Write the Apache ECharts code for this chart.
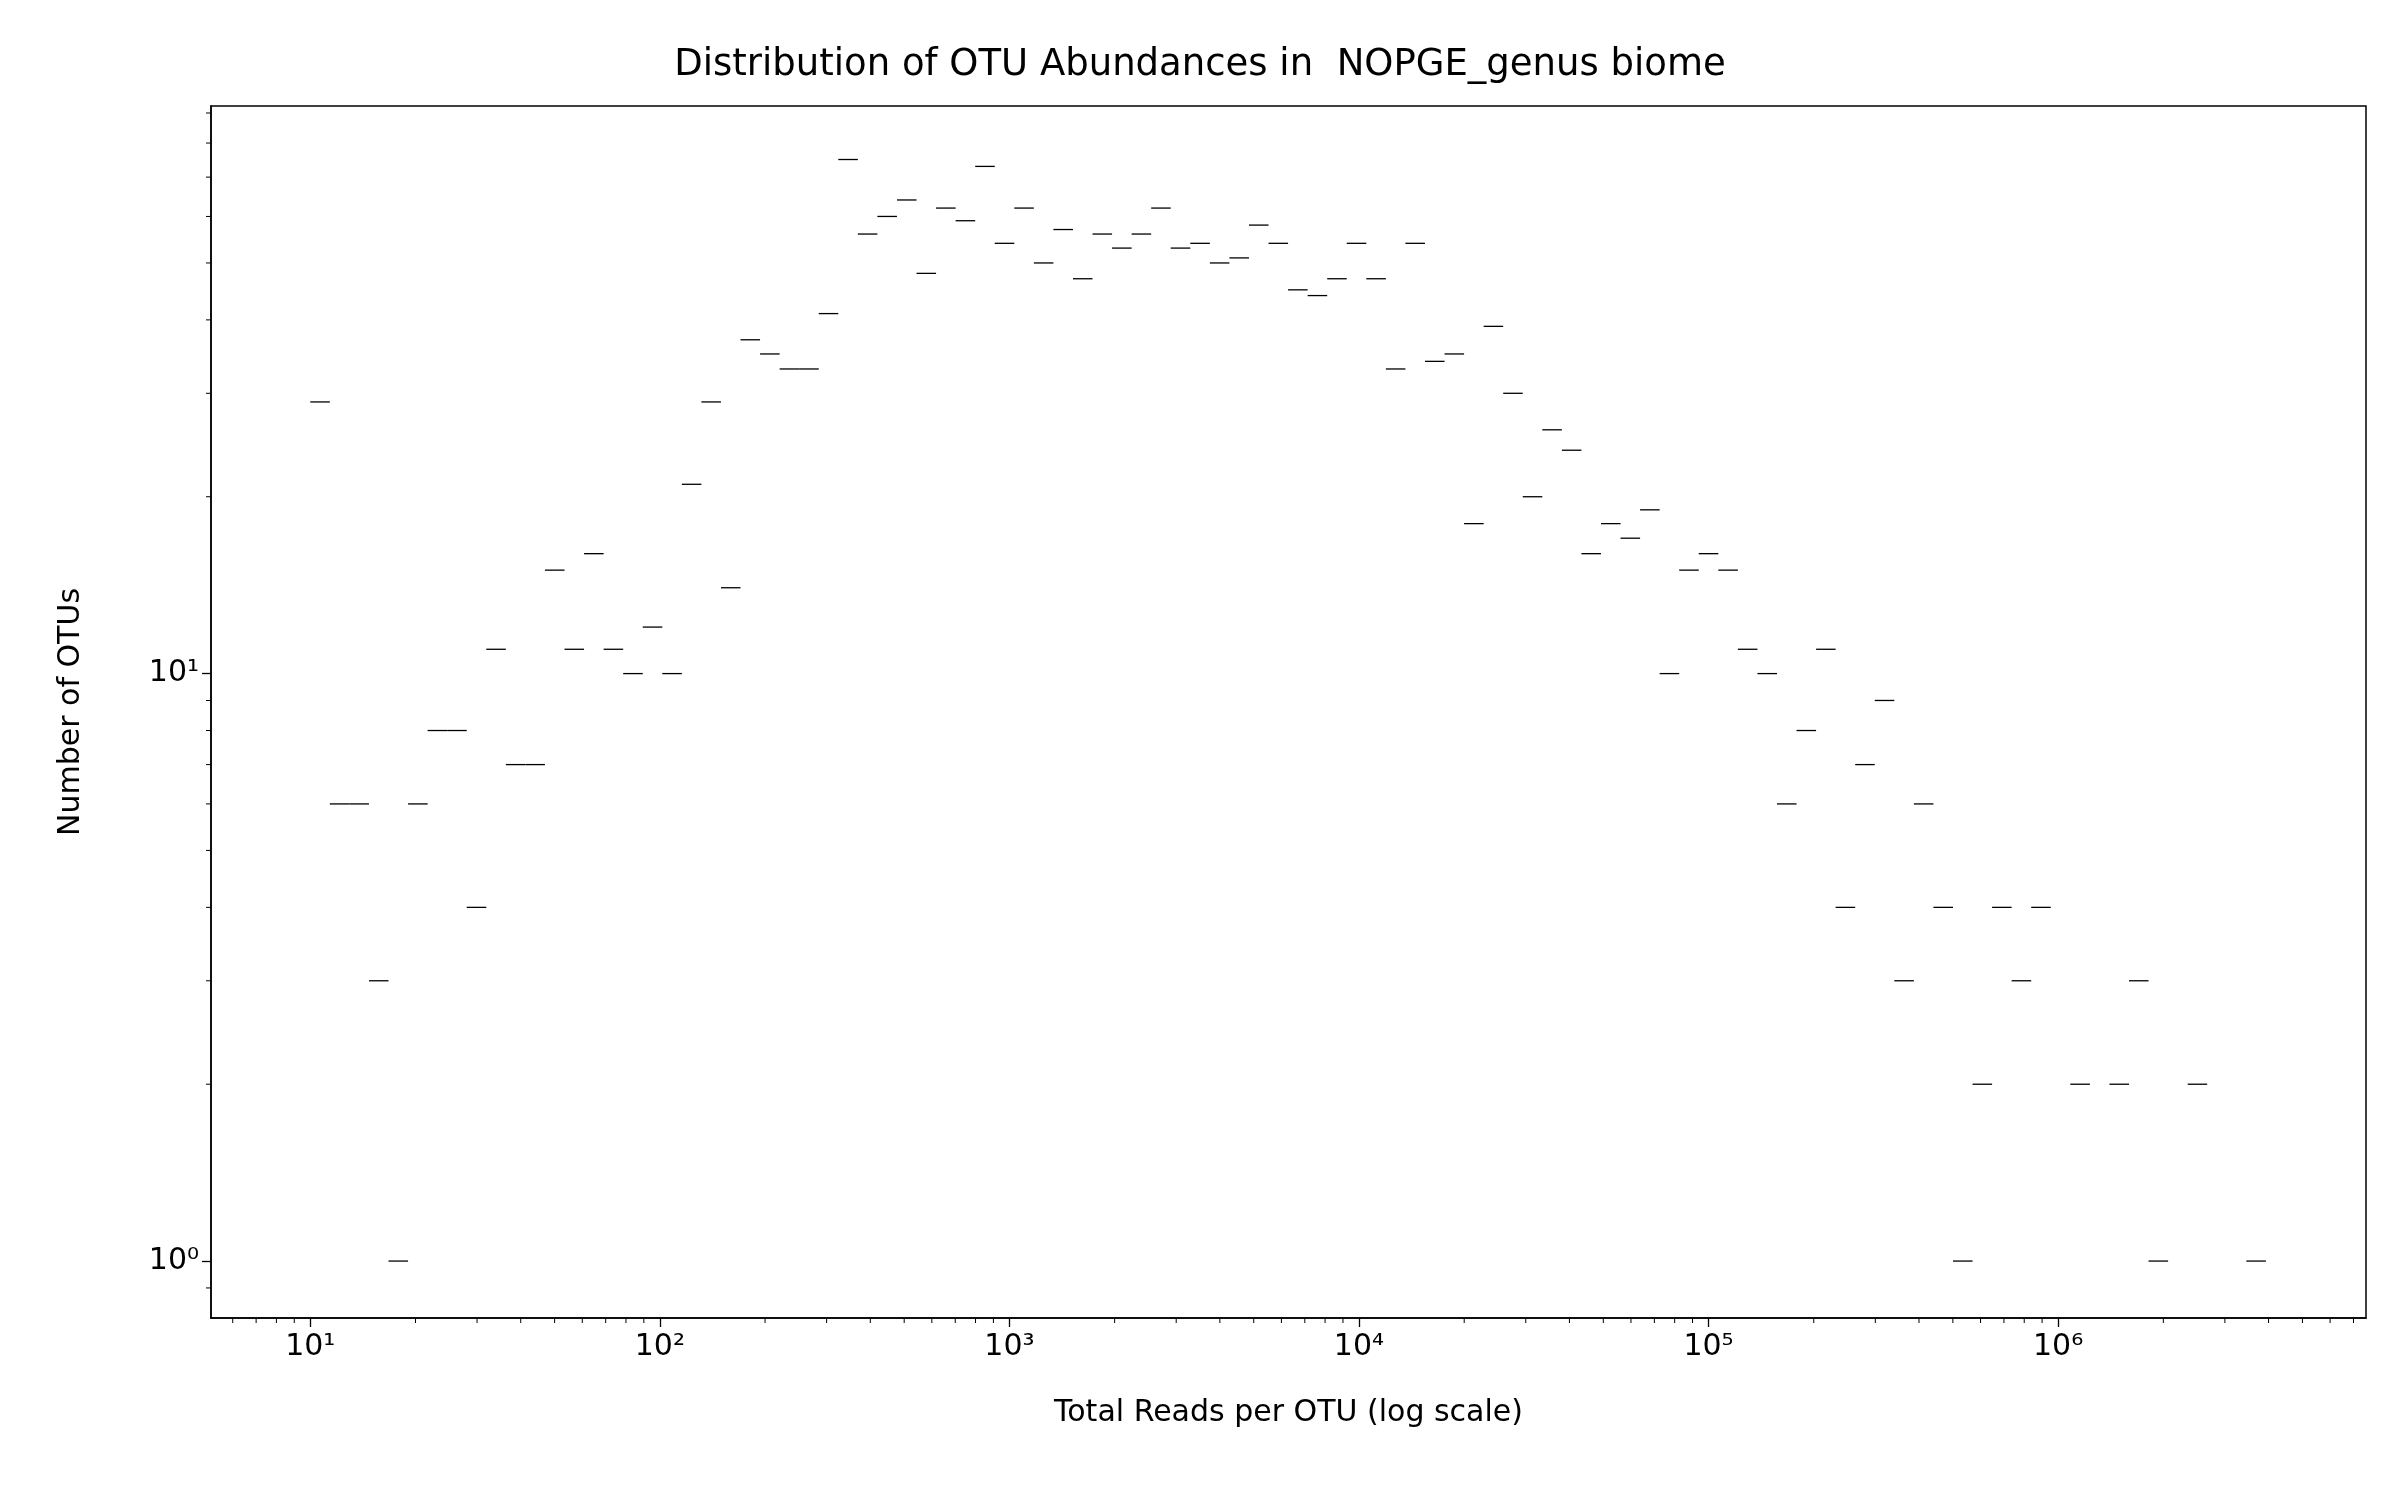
<!DOCTYPE html>
<html lang="en">
<head>
<meta charset="UTF-8">
<title>OTU abundances</title>
<script src="https://cdn.jsdelivr.net/npm/echarts@6/dist/echarts.min.js"></script>
<style>html,body{margin:0;background:#fff}</style>
</head>
<body>
<div id="chart" style="width:2400px;height:1500px;"></div>
<script>
// histogram: 100 log-spaced bins between the smallest and largest read totals
const binMin = 10;
const binMax = 3.93e6;
const counts = [
  29, 6, 6, 3, 1, 6, 8, 8, 4, 11,
  7, 7, 15, 11, 16, 11, 10, 12, 10, 21,
  29, 14, 37, 35, 33, 33, 41, 75, 56, 60,
  64, 48, 62, 59, 73, 54, 62, 50, 57, 47,
  56, 53, 56, 62, 53, 54, 50, 51, 58, 54,
  45, 44, 47, 54, 47, 33, 54, 34, 35, 18,
  39, 30, 20, 26, 24, 16, 18, 17, 19, 10,
  15, 16, 15, 11, 10, 6, 8, 11, 4, 7,
  9, 3, 6, 4, 1, 2, 4, 3, 4, 0,
  2, 0, 2, 3, 1, 0, 2, 0, 0, 1
];
const xMajor = [10, 100, 1000, 10000, 100000, 1000000];
const xMinorExp = [0, 1, 2, 3, 4, 5, 6];
const yMinorExp = [-1, 0, 1];

const nb = counts.length;
const lmin = Math.log10(binMin), lmax = Math.log10(binMax);
const bars = [];
counts.forEach((c, i) => {
  if (c > 0) {
    const a = Math.pow(10, lmin + (lmax - lmin) * i / nb);
    const b = Math.pow(10, lmin + (lmax - lmin) * (i + 1) / nb);
    bars.push([a, b, c]);
  }
});

const xMin = 5.2, xMax = 7.6e6, yMin = 0.8, yMax = 92.5;
const xMinor = [], yMinor = [];
xMinorExp.forEach(e => { for (let m = 2; m <= 9; m++) { const v = m * Math.pow(10, e); if (v > xMin && v < xMax) xMinor.push(v); } });
yMinorExp.forEach(e => { for (let m = 2; m <= 9; m++) { const v = m * Math.pow(10, e); if (v > yMin && v < yMax) yMinor.push(v); } });

const sup = {'0':'⁰','1':'¹','2':'²','3':'³','4':'⁴','5':'⁵','6':'⁶','7':'⁷','8':'⁸','9':'⁹','-':'⁻'};
function powLabel(v) {
  const e = Math.round(Math.log10(v));
  if (Math.abs(Math.log10(v) - e) > 1e-6) return '';
  return '10' + String(e).split('').map(ch => sup[ch]).join('');
}

const chart = echarts.init(document.getElementById('chart'));
const font = 'DejaVu Sans';
chart.setOption({
  animation: false,
  title: {
    text: 'Distribution of OTU Abundances in  NOPGE_genus biome',
    left: 'center', top: 42,
    textStyle: {fontFamily: font, fontSize: 37, fontWeight: 'normal', color: '#000'}
  },
  grid: {left: 211, right: 34, top: 106, bottom: 182},
  xAxis: {
    type: 'log', logBase: 10, min: xMin, max: xMax,
    name: 'Total Reads per OTU (log scale)', nameLocation: 'middle', nameGap: 80,
    nameTextStyle: {fontFamily: font, fontSize: 30, color: '#000'},
    axisLine: {onZero: false, lineStyle: {color: '#000', width: 1.5}},
    axisTick: {show: true, length: 9, inside: false, lineStyle: {color: '#000', width: 1.3},
      customValues: xMajor},
    axisLabel: {fontFamily: font, fontSize: 30, color: '#000', margin: 14,
      customValues: xMajor, formatter: powLabel},
    splitLine: {show: false}
  },
  yAxis: {
    type: 'log', logBase: 10, min: yMin, max: yMax,
    name: 'Number of OTUs', nameLocation: 'middle', nameGap: 125,
    nameTextStyle: {fontFamily: font, fontSize: 30, color: '#000'},
    axisLine: {onZero: false, lineStyle: {color: '#000', width: 1.5}},
    axisTick: {show: true, length: 9, lineStyle: {color: '#000', width: 1.3}, customValues: [1, 10]},
    axisLabel: {fontFamily: font, fontSize: 30, color: '#000', margin: 12,
      customValues: [1, 10], formatter: powLabel},
    splitLine: {show: false}
  },
  series: [
    {
      type: 'custom', data: bars, clip: true,
      renderItem: (params, api) => {
        const p0 = api.coord([api.value(0), api.value(2)]);
        const p1 = api.coord([api.value(1), api.value(2)]);
        return {type: 'line', shape: {x1: p0[0], y1: p0[1], x2: p1[0], y2: p1[1]},
          style: {stroke: '#000', lineWidth: 1.3}};
      }
    },
    {
      type: 'custom', data: xMinor.map(v => [v]), silent: true,
      renderItem: (params, api) => {
        const p = api.coord([api.value(0), yMin]);
        return {type: 'line', shape: {x1: p[0], y1: p[1], x2: p[0], y2: p[1] + 5},
          style: {stroke: '#000', lineWidth: 1}};
      }
    },
    {
      type: 'custom', data: yMinor.map(v => [xMin, v]), silent: true,
      renderItem: (params, api) => {
        const p = api.coord([xMin, api.value(1)]);
        return {type: 'line', shape: {x1: p[0], y1: p[1], x2: p[0] - 5, y2: p[1]},
          style: {stroke: '#000', lineWidth: 1}};
      }
    }
  ],
  graphic: [{
    type: 'rect', shape: {x: 211, y: 106, width: 2400 - 211 - 34, height: 1500 - 106 - 182},
    style: {fill: 'none', stroke: '#000', lineWidth: 1.5}, silent: true, z: 100
  }]
});
</script>
</body>
</html>
